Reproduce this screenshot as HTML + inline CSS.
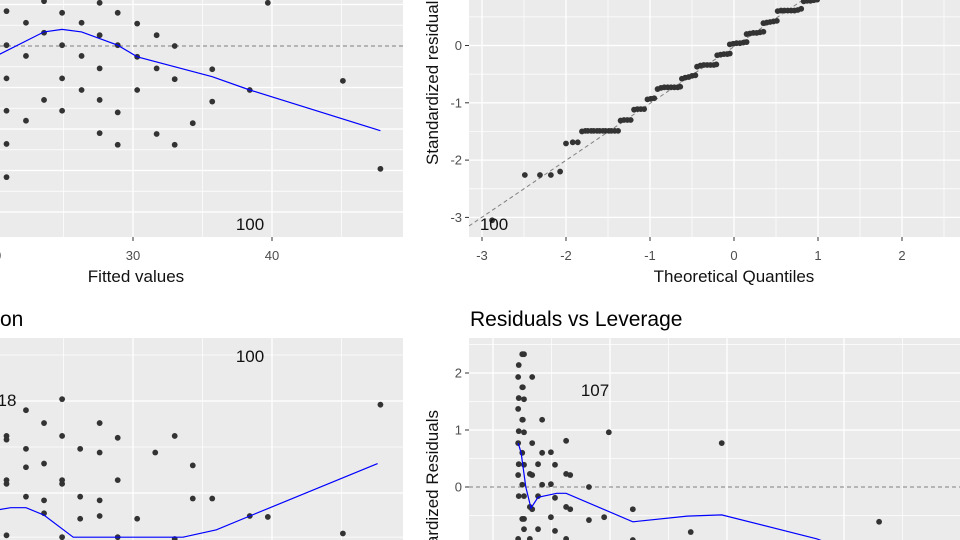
<!DOCTYPE html>
<html><head><meta charset="utf-8"><style>
html,body{margin:0;padding:0;background:#fff;width:960px;height:540px;overflow:hidden;}
svg{display:block;font-family:"Liberation Sans",Arial,sans-serif;overflow:hidden;}
</style></head><body>
<svg id="c" width="960" height="540" viewBox="0 0 960 540" xmlns="http://www.w3.org/2000/svg"></svg>
<script>
// ---- Residuals vs Fitted data ----
const rfFitted = [23.6,27.6,39.7,20.9,24.9,28.9,22.3,26.3,30.3,23.6,27.6,31.7,20.9,24.9,28.9,33.0,22.3,26.3,30.3,27.6,31.7,35.7,20.9,24.9,33.0,45.1,26.3,30.3,38.4,23.6,27.6,35.7,20.9,24.9,28.9,22.3,34.3,27.6,31.7,20.9,28.9,33.0,47.8,20.9];
const rfResid  = [5.4,5.2,5.2,4.2,4.0,4.0,2.8,2.8,2.7,1.6,1.3,1.3,0.1,0.1,0.1,0,-1.2,-1.2,-1.3,-2.7,-2.7,-2.8,-3.9,-3.9,-4.0,-4.2,-5.3,-5.3,-5.3,-6.5,-6.5,-6.7,-7.8,-7.8,-8.0,-9.0,-9.3,-10.5,-10.6,-11.8,-11.9,-11.9,-14.8,-15.8];
const rfSmoothX = [20.4,23.6,24.9,26.3,28.9,30.3,35.7,38.4,47.8];
const rfSmoothY = [-1.0,1.7,2.0,1.7,0.1,-1.3,-3.7,-5.3,-10.2];
const rfXTicks = [20,30,40];
// ---- Normal Q-Q data ----
const qqX = [-2.88,-2.49,-2.31,-2.18,-2.07,-2.0,-1.92,-1.86,
 -1.81,-1.77,-1.74,-1.70,-1.67,-1.63,-1.60,-1.56,-1.53,-1.49,-1.46,-1.42,-1.38,
 -1.35,-1.31,-1.27,-1.23,-1.19,-1.15,-1.11,-1.07,-1.03,-0.99,-0.95,
 -0.91,-0.87,-0.83,-0.79,-0.75,-0.71,-0.67,-0.64,-0.62,-0.58,-0.54,-0.50,-0.46,
 -0.44,-0.40,-0.36,-0.32,-0.28,-0.24,-0.21,-0.20,-0.16,-0.12,-0.08,-0.05,
 -0.05,-0.01,0.03,0.07,0.11,0.15,0.15,0.19,0.23,0.27,0.31,0.35,
 0.35,0.39,0.43,0.47,0.51,0.52,0.56,0.60,0.64,0.68,0.72,0.76,0.80,0.83,0.87,0.91,0.95,0.99];
const qqY = [-3.05,-2.26,-2.26,-2.26,-2.2,-1.71,-1.69,-1.69,
 -1.5,-1.49,-1.49,-1.49,-1.49,-1.49,-1.49,-1.49,-1.49,-1.49,-1.49,-1.49,-1.49,
 -1.31,-1.3,-1.3,-1.3,-1.12,-1.11,-1.11,-1.11,-0.94,-0.93,-0.92,
 -0.76,-0.74,-0.73,-0.73,-0.73,-0.73,-0.73,-0.72,-0.58,-0.56,-0.55,-0.53,-0.52,
 -0.37,-0.35,-0.34,-0.34,-0.34,-0.34,-0.33,-0.17,-0.16,-0.15,-0.15,-0.14,
 0.02,0.03,0.04,0.04,0.05,0.06,0.2,0.21,0.22,0.22,0.23,0.24,
 0.39,0.40,0.41,0.42,0.43,0.6,0.61,0.61,0.61,0.61,0.61,0.62,0.64,0.77,0.78,0.78,0.79,0.80];
const qqXTicks = [-3,-2,-1,0,1,2];
const qqYTicks = [-3,-2,-1,0];
// ---- Scale-Location data ----
const slFitted = [24.9,22.3,23.6,27.6,20.9,20.9,24.9,28.9,33.0,22.3,26.2,27.6,31.6,23.6,22.3,34.3,20.9,20.9,24.9,24.9,28.9,22.3,23.6,26.2,27.6,34.3,35.7,23.6,26.2,27.6,30.3,38.4,39.7,20.9,24.9,28.9,33.0,45.1,47.8];
const slSqrt   = [1.51,1.45,1.38,1.38,1.31,1.29,1.31,1.30,1.31,1.24,1.24,1.22,1.22,1.16,1.14,1.15,1.07,1.05,1.07,1.05,1.07,0.98,0.96,0.98,0.96,0.97,0.97,0.89,0.86,0.875,0.86,0.875,0.87,0.77,0.76,0.76,0.75,0.78,1.48];
const slSmoothX = [20.4,21.2,22.3,23.6,25.7,33.6,36.0,38.4,47.6];
const slSmoothY = [0.91,0.92,0.92,0.88,0.76,0.76,0.80,0.875,1.16];
// ---- Residuals vs Leverage data ----
const rlLev = [0.0050,0.0053,0.0044,0.0043,0.0067,0.0050,0.0051,0.0044,0.0053,0.0043,0.0050,0.0051,0.0084,0.0044,0.0053,0.0043,0.0067,0.0125,0.0198,0.0391,0.0050,0.0084,0.0099,0.0044,0.0053,0.0077,0.0106,0.0043,0.0063,0.0067,0.0125,0.0132,0.0050,0.0084,0.0099,0.0164,0.0044,0.0053,0.0077,0.0106,0.0063,0.0067,0.0125,0.0132,0.0239,0.0050,0.0053,0.0099,0.0164,0.0190,0.0660,0.0053,0.0077,0.0106,0.0338,0.0043,0.0063,0.0125,0.0239];
const rlRes = [2.33,2.33,2.14,1.93,1.93,1.75,1.75,1.56,1.54,1.37,1.18,1.18,1.18,0.98,0.96,0.77,0.77,0.81,0.96,0.77,0.60,0.60,0.61,0.40,0.39,0.40,0.39,0.21,0.23,0.21,0.23,0.21,0.04,0.04,0.05,0,-0.16,-0.16,-0.16,-0.19,-0.35,-0.39,-0.35,-0.39,-0.39,-0.56,-0.56,-0.53,-0.58,-0.53,-0.61,-0.74,-0.74,-0.77,-0.79,-0.91,-0.91,-0.91,-0.93];
const rlSmoothX = [0.0043,0.0048,0.0056,0.0065,0.0077,0.0109,0.0125,0.0239,0.0332,0.0391,0.0554,0.0576];
const rlSmoothY = [0.77,0.60,0,-0.37,-0.18,-0.11,-0.11,-0.61,-0.51,-0.49,-0.91,-1.0];
const rlYTicks = [0,1,2];

const svg=document.getElementById('c');
const NS='http://www.w3.org/2000/svg';
function mk(tag,attrs,parent){const e=document.createElementNS(NS,tag);for(const k in attrs)e.setAttribute(k,attrs[k]);(parent||svg).appendChild(e);return e;}
function panel(name,x0,y0,x1,y1,vlines,hlines){
  const g=mk('svg',{x:x0,y:y0,width:x1-x0,height:y1-y0,viewBox:x0+' '+y0+' '+(x1-x0)+' '+(y1-y0),overflow:'hidden'});
  
  
  const bg=mk('rect',{x:x0,y:y0,width:x1-x0,height:y1-y0,fill:'#EBEBEB'},g);
  
  
  vlines.forEach(v=>{const l=mk('line',{x1:v[0],x2:v[0],y1:y0,y2:y1,stroke:'#fff','stroke-width':v[1]},g);});
  hlines.forEach(v=>{const l=mk('line',{y1:v[0],y2:v[0],x1:x0,x2:x1,stroke:'#fff','stroke-width':v[1]},g);});
  return g;
}
function pts(g,xs,ys,sx,sy){xs.forEach((x,i)=>{const c=mk('circle',{cx:sx(x),cy:sy(ys[i]),r:2.9,fill:'#333333'},g);});}
function line(g,xs,ys,sx,sy,name){const p=xs.map((x,i)=>sx(x).toFixed(1)+','+sy(ys[i]).toFixed(1)).join(' ');const l=mk('polyline',{points:p,fill:'none',stroke:'#0000FF','stroke-width':1.2},g);}
function dash(g,x1,y1,x2,y2){const l=mk('line',{x1,y1,x2,y2,stroke:'#7F7F7F','stroke-width':1,'stroke-dasharray':'4,3'},g);}
function text(t,x,y,o,name,parent){const e=mk('text',Object.assign({x,y,'font-size':13,fill:'#4D4D4D'},o||{}),parent);e.textContent=t;return e;}
function tick(x1,y1,x2,y2){const l=mk('line',{x1,y1,x2,y2,stroke:'#333','stroke-width':1});}

// ===== Panel 1: Residuals vs Fitted =====
{
 const sx=v=>133+(v-30)*13.9, sy=v=>46-v*8.3;
 const g=panel('residuals-vs-fitted-panel',0,0,403,237,
   [[sx(20),1.3],[sx(25),0.7],[sx(30),1.3],[sx(35),0.7],[sx(40),1.3],[sx(45),0.7]],
   [[sy(5),1.3],[sy(2.5),0.7],[sy(-2.5),0.7],[sy(-5),1.3],[sy(-7.5),0.7],[sy(-10),1.3],[sy(-12.5),0.7],[sy(-15),1.3],[sy(-17.5),0.7],[sy(-20),1.3]]);
 dash(g,0,sy(0),403,sy(0));
 pts(g,rfFitted,rfResid,sx,sy);
 line(g,rfSmoothX,rfSmoothY,sx,sy,'loess-smooth-line');
 text('100',250,230,{'text-anchor':'middle','font-size':17,fill:'#111'},'outlier-label');
 rfXTicks.forEach(t=>{tick(sx(t),237,sx(t),241);text(String(t),sx(t),260,{'text-anchor':'middle'},'x-tick-label');});
 text('Fitted values',136,282,{'text-anchor':'middle','font-size':17,fill:'#111'},'x-axis-title');
}
// ===== Panel 2: Normal Q-Q =====
{
 const sx=v=>734+v*84, sy=v=>45.5-v*57.3;
 const g=panel('normal-qq-panel',469,0,960,237,
   [[sx(-3),1.3],[sx(-2.5),0.7],[sx(-2),1.3],[sx(-1.5),0.7],[sx(-1),1.3],[sx(-0.5),0.7],[sx(0),1.3],[sx(0.5),0.7],[sx(1),1.3],[sx(1.5),0.7],[sx(2),1.3],[sx(2.5),0.7]],
   [[sy(0.5),0.7],[sy(0),1.3],[sy(-0.5),0.7],[sy(-1),1.3],[sy(-1.5),0.7],[sy(-2),1.3],[sy(-2.5),0.7],[sy(-3),1.3]]);
 dash(g,469,sy(-3.15),sx(0.82),0);
 pts(g,qqX,qqY,sx,sy);
 text('100',494,230,{'text-anchor':'middle','font-size':17,fill:'#111'},'outlier-label');
 qqXTicks.forEach(t=>{tick(sx(t),237,sx(t),241);text(String(t),sx(t),260,{'text-anchor':'middle'},'x-tick-label');});
 qqYTicks.forEach(t=>{tick(465,sy(t),469,sy(t));text(String(t),462,sy(t)+4.5,{'text-anchor':'end'},'y-tick-label');});
 text('Theoretical Quantiles',734,282,{'text-anchor':'middle','font-size':17,fill:'#111'},'x-axis-title');
 text('Standardized residuals',438,165,{'font-size':17,fill:'#111',transform:'rotate(-90 438 165)'},'y-axis-title');
}
// ===== Panel 3: Scale-Location =====
{
 const sx=v=>133+(v-30)*13.9, sy=v=>355+(1.75-v)*184;
 const g=panel('scale-location-panel',0,338,403,540,
   [[sx(20),1.3],[sx(25),0.7],[sx(30),1.3],[sx(35),0.7],[sx(40),1.3],[sx(45),0.7]],
   [[sy(1.75),0.7],[sy(1.5),1.3],[sy(1.25),0.7],[sy(1.0),1.3],[sy(0.76),0.7]]);
 pts(g,slFitted,slSqrt,sx,sy);
 line(g,slSmoothX,slSmoothY,sx,sy,'loess-smooth-line');
 text('100',250,362,{'text-anchor':'middle','font-size':17,fill:'#111'},'outlier-label');
 text('18',7,406,{'text-anchor':'middle','font-size':17,fill:'#111'},'outlier-label');
 text('on',0,326,{'font-size':21,fill:'#000'},'plot-title');
}
// ===== Panel 4: Residuals vs Leverage =====
{
 const sx=v=>493+v*5850, sy=v=>487-v*57;
 const vl=[];for(let i=0;i<8;i++)vl.push([493+i*58.5,i%2?0.7:1.3]);
 const g=panel('residuals-vs-leverage-panel',469,338,960,540,vl,
   [[sy(2.5),0.7],[sy(2),1.3],[sy(1.5),0.7],[sy(1),1.3],[sy(0.5),0.7],[sy(-0.5),0.7]]);
 dash(g,469,sy(0),960,sy(0));
 pts(g,rlLev,rlRes,sx,sy);
 line(g,rlSmoothX,rlSmoothY,sx,sy,'loess-smooth-line');
 text('107',595,396,{'text-anchor':'middle','font-size':17,fill:'#111'},'outlier-label');
 rlYTicks.forEach(t=>{tick(465,sy(t),469,sy(t));text(String(t),462,sy(t)+4.5,{'text-anchor':'end'},'y-tick-label');});
 const clip=mk('svg',{x:415,y:300,width:40,height:240,viewBox:'415 300 40 240',overflow:'hidden'});
 
 
 text('Standardized Residuals',438,410,{'text-anchor':'end','font-size':17,fill:'#111',transform:'rotate(-90 438 410)'},'y-axis-title',clip);
 text('Residuals vs Leverage',470,326,{'font-size':21,fill:'#000'},'plot-title');
}
</script>
</body></html>
